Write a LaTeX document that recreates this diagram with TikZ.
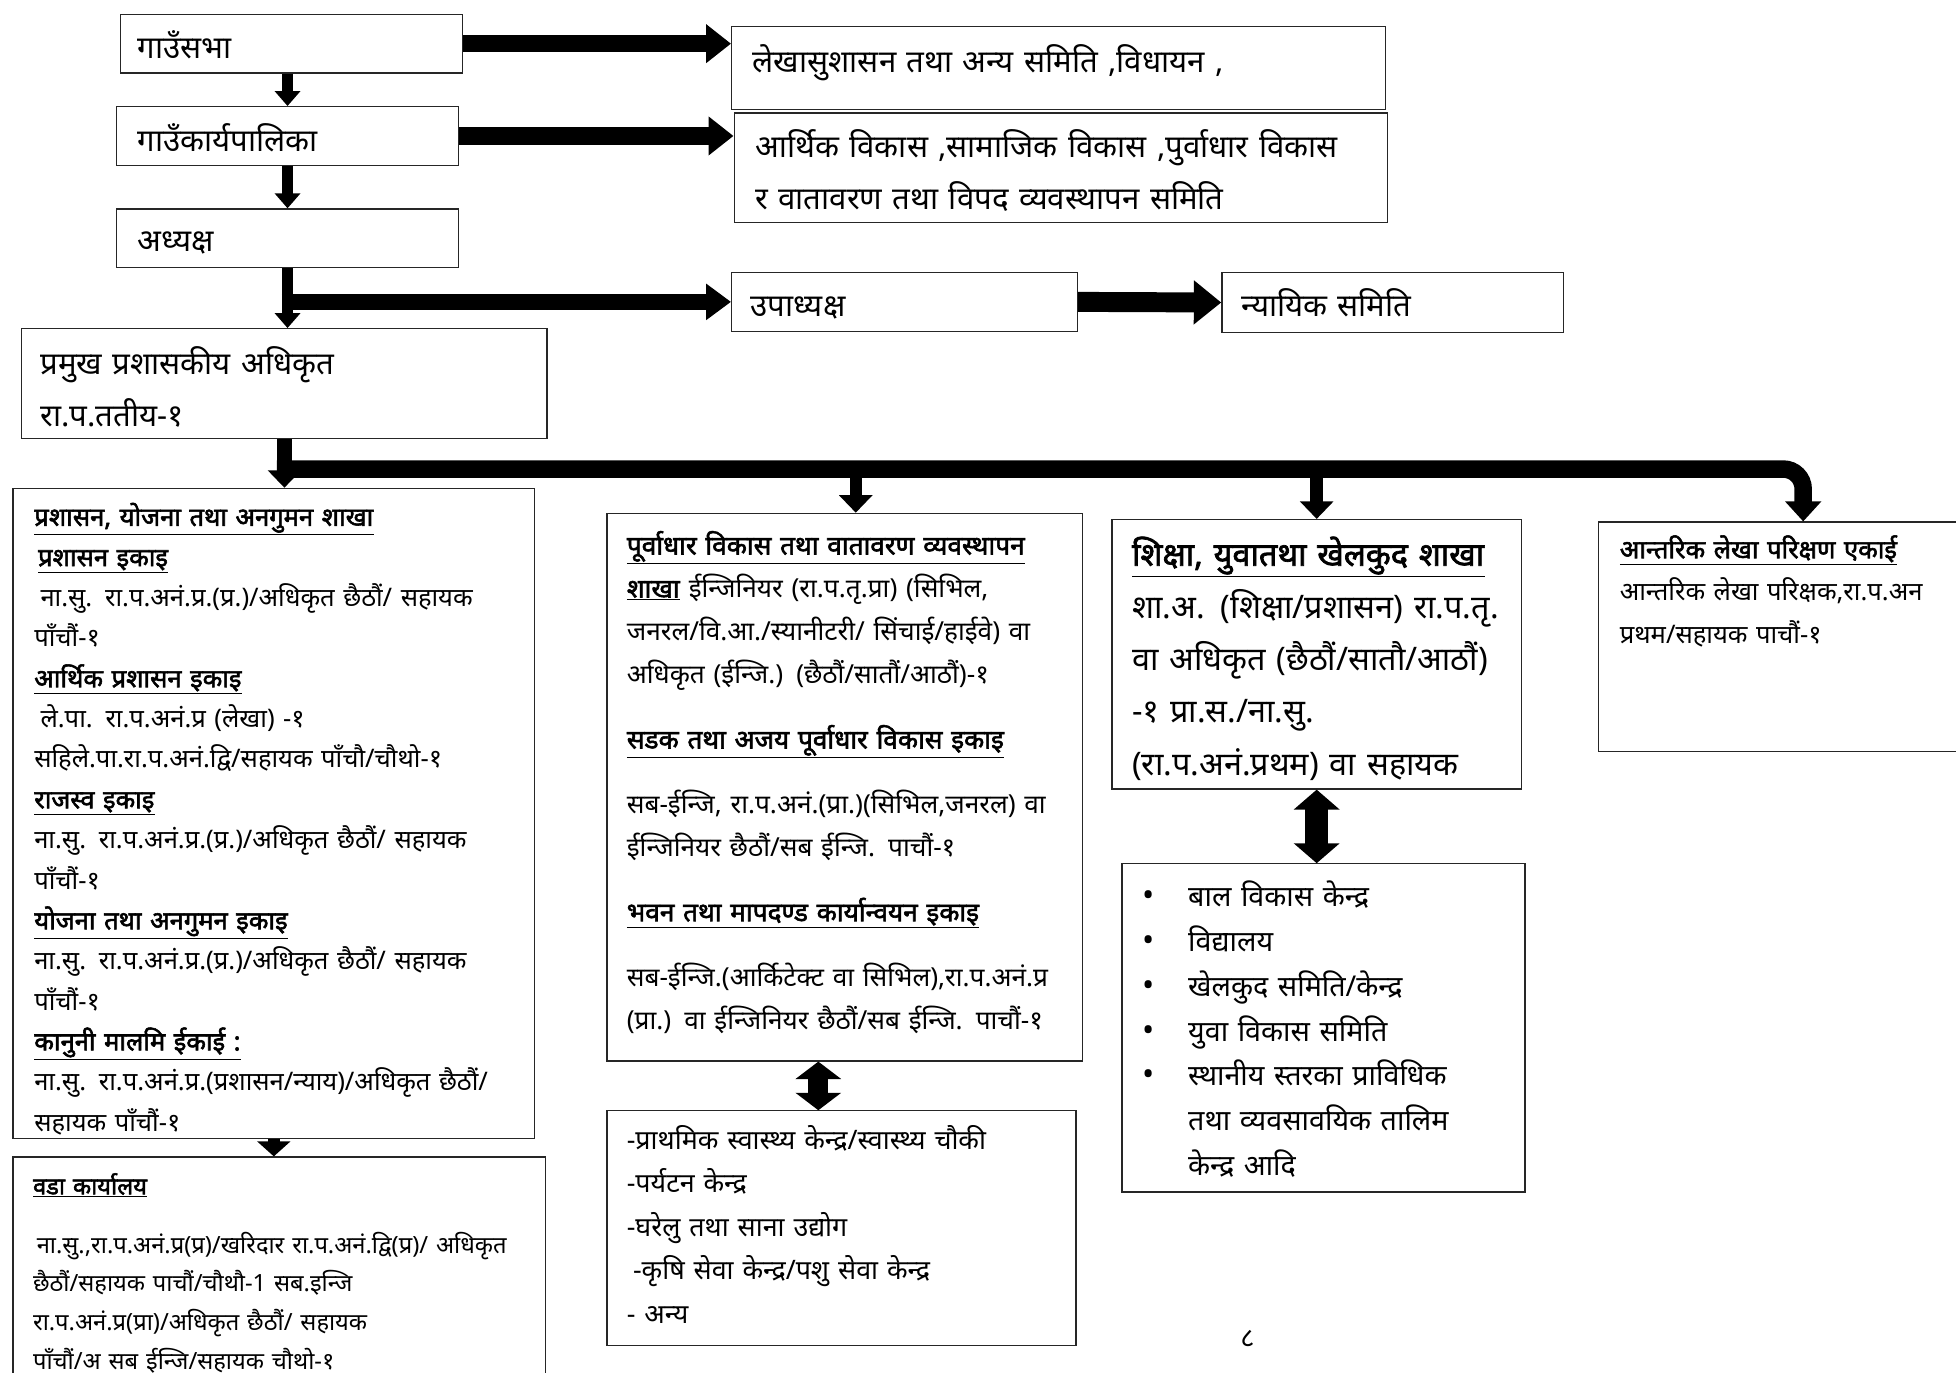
\documentclass[tikz,border=0pt]{standalone}
\usepackage{fontspec}
\setmainfont{Noto Sans}
\newfontfamily\deva[Script=Devanagari,BoldFont={Noto Sans},BoldFeatures={FakeBold=2.2}]{Noto Sans}
\usetikzlibrary{arrows.meta,calc,positioning}

\newcommand\ulhead[1]{\underline{\textbf{#1}}}
\newcommand\dotitem{\makebox[37pt][l]{\fontsize{26}{10}\selectfont •}}

\tikzset{
  orgbox/.style={
    draw=black!85,
    line width=1pt,
    anchor=north west,
    align=left,
    inner ysep=0pt},
  bigtext/.style={font=\deva\fontsize{25}{41.5}\selectfont},
  midtext/.style={font=\deva\fontsize{21}{34.5}\selectfont},
  smalltext/.style={font=\deva\fontsize{20.5}{32.35}\selectfont},
  fat/.style n args={3}{line width=#1, -{Triangle[width=#2,length=#3]}},
  twoway/.style n args={3}{line width=#1,
    {Triangle[width=#2,length=#3]}-{Triangle[width=#2,length=#3]}},
}

\begin{document}
\begin{tikzpicture}[x=1pt,y=-1pt]
  \useasboundingbox (0,0) rectangle (1568,1100);
  \clip (0,0) rectangle (1568,1100);

  % left column
  \node[orgbox,bigtext,inner xsep=14pt,text width=246pt,text height=35pt,text depth=12pt]
    (sabha) at (96,11) {गाउँसभा};
  \node[orgbox,bigtext,inner xsep=17pt,text width=240pt,text height=36pt,text depth=11pt]
    (exec) at (93,85) {गाउँकार्यपालिका};
  \node[orgbox,bigtext,inner xsep=17pt,text width=240pt,text height=34pt,text depth=13pt]
    (adh) at (93,167) {अध्यक्ष};
  \node[orgbox,bigtext,inner xsep=15pt,text width=391pt,text height=37pt,text depth=51pt]
    (cao) at (17,263) {प्रमुख प्रशासकीय अधिकृत\\ रा.प.ततीय-१};

  % committees
  \node[orgbox,bigtext,inner xsep=17pt,text width=490pt,text height=37pt,text depth=29pt]
    (lekha) at (586,21) {लेखासुशासन तथा अन्य समिति ,विधायन ,};
  \node[orgbox,bigtext,inner xsep=17pt,text width=490pt,text height=36pt,text depth=52pt]
    (arthik) at (588,90)
    {आर्थिक विकास ,सामाजिक विकास ,पुर्वाधार विकास\\ र वातावरण तथा विपद व्यवस्थापन समिति};
  \node[orgbox,bigtext,inner xsep=15pt,text width=247pt,text height=35pt,text depth=12pt]
    (upa) at (586,218) {उपाध्यक्ष};
  \node[orgbox,bigtext,inner xsep=16pt,text width=242pt,text height=35pt,text depth=13pt]
    (nyayik) at (979,218) {न्यायिक समिति};

  % branches
  \node[orgbox,smalltext,inner xsep=17pt,text width=384pt,text height=30pt,text depth=491pt]
    (admin) at (10,391) {%
    \ulhead{प्रशासन, योजना तथा अनगुमन शाखा}\\
    \hspace{3pt}\ulhead{प्रशासन इकाइ}\\
    \hspace{5pt}ना.सु. रा.प.अनं.प्र.(प्र.)/अधिकृत छैठौं/ सहायक\\
    पाँचौं-१\\
    \ulhead{आर्थिक प्रशासन इकाइ}\\
    \hspace{5pt}ले.पा. रा.प.अनं.प्र (लेखा) -१\\
    सहिले.पा.रा.प.अनं.द्वि/सहायक पाँचौ/चौथो-१\\
    \ulhead{राजस्व इकाइ}\\
    ना.सु. रा.प.अनं.प्र.(प्र.)/अधिकृत छैठौं/ सहायक\\
    पाँचौं-१\\
    \ulhead{योजना तथा अनगुमन इकाइ}\\
    ना.सु. रा.प.अनं.प्र.(प्र.)/अधिकृत छैठौं/ सहायक\\
    पाँचौं-१\\
    \ulhead{कानुनी मालमि ईकाई :}\\
    ना.सु. रा.प.अनं.प्र.(प्रशासन/न्याय)/अधिकृत छैठौं/\\
    सहायक पाँचौं-१};
  \node[orgbox,inner xsep=16pt,text width=395pt,text height=30pt,text depth=200pt,
    font=\deva\fontsize{19}{31}\selectfont]
    (ward) at (10,927) {%
    \ulhead{वडा कार्यालय}\\[16pt]
    \hspace{3pt}ना.सु.,रा.प.अनं.प्र(प्र)/खरिदार रा.प.अनं.द्वि(प्र)/ अधिकृत\\
    छैठौं/सहायक पाचौं/चौथौ-1 सब.इन्जि\\
    रा.प.अनं.प्र(प्रा)/अधिकृत छैठौं/ सहायक\\
    पाँचौं/अ सब ईन्जि/सहायक चौथो-१};
  \node[orgbox,midtext,inner xsep=16pt,text width=349pt,text height=33pt,text depth=406pt]
    (infra) at (486,411) {%
    \ulhead{पूर्वाधार विकास तथा वातावरण व्यवस्थापन}\\
    \ulhead{शाखा} ईन्जिनियर (रा.प.तृ.प्रा) (सिभिल,\\
    जनरल/वि.आ./स्यानीटरी/ सिंचाई/हाईवे) वा\\
    अधिकृत (ईन्जि.) (छैठौं/सातौं/आठौं)-१\\[17.5pt]
    \ulhead{सडक तथा अजय पूर्वाधार विकास इकाइ}\\[17.5pt]
    सब-ईन्जि, रा.प.अनं.(प्रा.)(सिभिल,जनरल) वा\\
    ईन्जिनियर छैठौं/सब ईन्जि. पाचौं-१\\[17.5pt]
    \ulhead{भवन तथा मापदण्ड कार्यान्वयन इकाइ}\\[17.5pt]
    सब-ईन्जि.(आर्किटेक्ट वा सिभिल),रा.प.अनं.प्र\\
    (प्रा.) वा ईन्जिनियर छैठौं/सब ईन्जि. पाचौं-१};
  \node[orgbox,inner xsep=16pt,text width=344pt,text height=31pt,text depth=157pt,
    font=\deva\fontsize{21.5}{34.8}\selectfont]
    (centres) at (486,890) {%
    -प्राथमिक स्वास्थ्य केन्द्र/स्वास्थ्य चौकी\\
    -पर्यटन केन्द्र\\
    -घरेलु तथा साना उद्योग\\
    \hspace{5pt}-कृषि सेवा केन्द्र/पशु सेवा केन्द्र\\
    - अन्य};
  \node[orgbox,inner xsep=16pt,text width=296pt,text height=37pt,text depth=179pt,
    font=\deva\fontsize{26}{42}\selectfont]
    (shiksha) at (891,416) {%
    \ulhead{शिक्षा, युवातथा खेलकुद शाखा}\\
    शा.अ. (शिक्षा/प्रशासन) रा.प.तृ.\\
    वा अधिकृत (छैठौं/सातौ/आठौं)\\
    -१ प्रा.स./ना.सु.\\
    (रा.प.अनं.प्रथम) वा सहायक};
  \node[orgbox,inner xsep=16pt,text width=291pt,text height=34pt,text depth=229pt,
    font=\deva\fontsize{23}{36}\selectfont]
    (youth) at (899,692) {%
    \dotitem बाल विकास केन्द्र\\
    \dotitem विद्यालय\\
    \dotitem खेलकुद समिति/केन्द्र\\
    \dotitem युवा विकास समिति\\
    \dotitem स्थानीय स्तरका प्राविधिक\\
    \hspace{37pt}तथा व्यवसावयिक तालिम\\
    \hspace{37pt}केन्द्र आदि};
  \node[orgbox,inner xsep=17pt,text width=294pt,text height=29pt,text depth=155pt,
    font=\deva\fontsize{20.5}{34}\selectfont]
    (audit) at (1281,418) {%
    \ulhead{आन्तरिक लेखा परिक्षण एकाई}\\
    आन्तरिक लेखा परिक्षक,रा.प.अन\\
    प्रथम/सहायक पाचौं-१};

  \node[font=\deva\fontsize{22}{22}\selectfont] (pagenum) at (1000,1073) {८};

  % connectors
  \draw[fat={9pt}{20pt}{12pt}] (sabha.south -| exec.north) -- (exec.north);
  \draw[fat={9pt}{20pt}{12pt}] (exec.south) -- (adh.north);
  \draw[fat={9pt}{20pt}{12pt}] (adh.south) -- (adh.south |- cao.north);
  \draw[fat={14pt}{30pt}{20pt}] (sabha.east) -- (sabha.east -| lekha.west);
  \draw[fat={14pt}{30pt}{20pt}] (exec.east) -- (exec.east -| arthik.west);
  \draw[fat={13pt}{28pt}{20pt}] ([xshift=-4.5pt]adh.south |- upa.west) -- (upa.west);
  \draw[fat={16pt}{34pt}{22pt}] (upa.east) -- (nyayik.west);

  \coordinate (bus) at ($(cao.south)+(0,24)$);
  \draw[fat={14pt}{28pt}{16pt},rounded corners=16pt]
    ([xshift=-6pt]bus) -- (bus -| audit.north) -- (audit.north);
  \draw[fat={12pt}{26pt}{14pt}] (cao.south) -- (cao.south |- admin.north);
  \draw[fat={10pt}{26pt}{14pt}] ([xshift=9pt]bus -| infra.north) -- ([xshift=9pt]infra.north);
  \draw[fat={10pt}{26pt}{14pt}] (bus -| shiksha.north) -- (shiksha.north);
  \draw[fat={10pt}{26pt}{12pt}] (admin.south) -- (admin.south |- ward.north);
  \draw[twoway={16pt}{36pt}{14pt}] ([xshift=-21pt]infra.south) -- ([xshift=-21pt]infra.south |- centres.north);
  \draw[twoway={18pt}{36pt}{16pt}] (shiksha.south) -- (shiksha.south |- youth.north);
\end{tikzpicture}
\end{document}
